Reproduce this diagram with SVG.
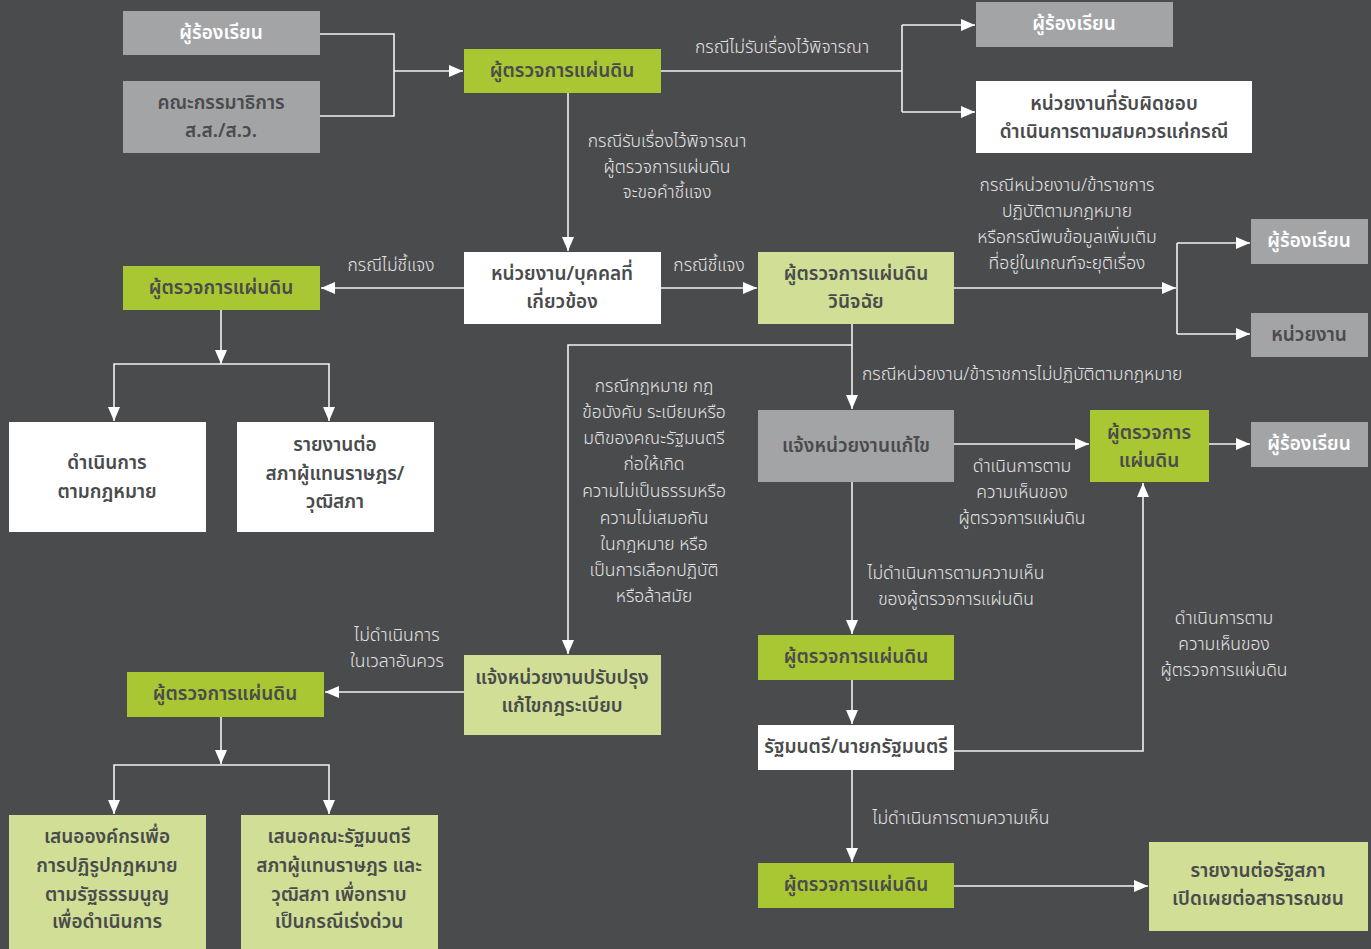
<svg xmlns="http://www.w3.org/2000/svg" width="1371" height="949" viewBox="0 0 1371 949">
<defs>
<marker id="ah" markerUnits="userSpaceOnUse" markerWidth="16" markerHeight="14" refX="15" refY="7" orient="auto">
<path d="M1,1 L15,7 L1,13 Z" fill="#ffffff"/>
</marker>
<style>
.bg{fill:#4a4b4d}
.gray{fill:#a3a4a6}
.green{fill:#a9c732}
.lgreen{fill:#d0df95}
.white{fill:#ffffff}
text{font-family:"Noto Sans Thai","Noto Sans","Liberation Sans",sans-serif;text-anchor:middle;dominant-baseline:central}
.bt{font-size:19px;font-weight:600;fill:#4a4b4d}
.btw{font-size:19px;font-weight:600;fill:#ffffff}
.lb{font-size:17.5px;font-weight:300;fill:#e4e4e4}
.lbl{font-size:17.5px;font-weight:300;fill:#e4e4e4;text-anchor:start}
.ln{fill:none;stroke:#f2f2f2;stroke-width:1.6}
.ar{marker-end:url(#ah)}
</style>
</defs>
<rect class="bg" x="0" y="0" width="1371" height="949"/>

<g id="connectors">
<path class="ln" d="M320 34 H394 V116 H320"/>
<path class="ln ar" d="M394 71 H463"/>
<path class="ln" d="M661 71 H902"/>
<path class="ln" d="M902 25 V112"/>
<path class="ln ar" d="M902 25 H975"/>
<path class="ln ar" d="M902 112 H975"/>
<path class="ln ar" d="M568 93 V251"/>
<path class="ln ar" d="M464 288 H321"/>
<path class="ln ar" d="M221 310 V364"/>
<path class="ln ar" d="M221 364 H114 V421"/>
<path class="ln ar" d="M221 364 H329 V421"/>
<path class="ln ar" d="M661 288 H757"/>
<path class="ln ar" d="M954 288 H1176"/>
<path class="ln" d="M1177 243 V334"/>
<path class="ln ar" d="M1177 243 H1250"/>
<path class="ln ar" d="M1177 334 H1250"/>
<path class="ln ar" d="M852 324 V409"/>
<path class="ln ar" d="M852 345 H568 V654"/>
<path class="ln ar" d="M954 444 H1089"/>
<path class="ln ar" d="M1209 444 H1250"/>
<path class="ln ar" d="M852 482 V634"/>
<path class="ln ar" d="M464 692 H325"/>
<path class="ln ar" d="M221 717 V764"/>
<path class="ln ar" d="M221 765 H114 V814"/>
<path class="ln ar" d="M221 765 H329 V814"/>
<path class="ln ar" d="M852 680 V724"/>
<path class="ln ar" d="M954 751 H1143 V483"/>
<path class="ln ar" d="M852 770 V862"/>
<path class="ln ar" d="M954 886 H1148"/>
</g>

<g id="labels">
<text class="lb" x="782" y="47">กรณีไม่รับเรื่องไว้พิจารณา</text>
<text class="lb" x="667" y="141">กรณีรับเรื่องไว้พิจารณา</text>
<text class="lb" x="667" y="167">ผู้ตรวจการแผ่นดิน</text>
<text class="lb" x="667" y="192">จะขอคำชี้แจง</text>
<text class="lb" x="391" y="265">กรณีไม่ชี้แจง</text>
<text class="lb" x="709" y="265">กรณีชี้แจง</text>
<text class="lb" x="1067" y="185">กรณีหน่วยงาน/ข้าราชการ</text>
<text class="lb" x="1067" y="211">ปฏิบัติตามกฎหมาย</text>
<text class="lb" x="1067" y="237">หรือกรณีพบข้อมูลเพิ่มเติม</text>
<text class="lb" x="1067" y="263">ที่อยู่ในเกณฑ์จะยุติเรื่อง</text>
<text class="lbl" x="862" y="374">กรณีหน่วยงาน/ข้าราชการไม่ปฏิบัติตามกฎหมาย</text>
<text class="lb" x="654" y="386">กรณีกฎหมาย กฎ</text>
<text class="lb" x="654" y="412">ข้อบังคับ ระเบียบหรือ</text>
<text class="lb" x="654" y="438">มติของคณะรัฐมนตรี</text>
<text class="lb" x="654" y="464">ก่อให้เกิด</text>
<text class="lb" x="654" y="491">ความไม่เป็นธรรมหรือ</text>
<text class="lb" x="654" y="518">ความไม่เสมอกัน</text>
<text class="lb" x="654" y="544">ในกฎหมาย หรือ</text>
<text class="lb" x="654" y="570">เป็นการเลือกปฏิบัติ</text>
<text class="lb" x="654" y="596">หรือล้าสมัย</text>
<text class="lb" x="1022" y="466">ดำเนินการตาม</text>
<text class="lb" x="1022" y="492">ความเห็นของ</text>
<text class="lb" x="1022" y="518">ผู้ตรวจการแผ่นดิน</text>
<text class="lb" x="956" y="573">ไม่ดำเนินการตามความเห็น</text>
<text class="lb" x="956" y="599">ของผู้ตรวจการแผ่นดิน</text>
<text class="lb" x="1224" y="618">ดำเนินการตาม</text>
<text class="lb" x="1224" y="644">ความเห็นของ</text>
<text class="lb" x="1224" y="670">ผู้ตรวจการแผ่นดิน</text>
<text class="lb" x="397" y="635">ไม่ดำเนินการ</text>
<text class="lb" x="397" y="661">ในเวลาอันควร</text>
<text class="lb" x="961" y="818">ไม่ดำเนินการตามความเห็น</text>
</g>

<g id="n-complainant1"><rect class="gray" x="123" y="11" width="197" height="44"/><text class="btw" x="221" y="33">ผู้ร้องเรียน</text></g>
<g id="n-committee"><rect class="gray" x="123" y="81" width="197" height="72"/><text class="bt" x="221" y="103">คณะกรรมาธิการ</text><text class="bt" x="221" y="131">ส.ส./ส.ว.</text></g>
<g id="n-ombudsman1"><rect class="green" x="464" y="49" width="197" height="44"/><text class="bt" x="562" y="71">ผู้ตรวจการแผ่นดิน</text></g>
<g id="n-complainant2"><rect class="gray" x="976" y="2" width="197" height="45"/><text class="btw" x="1074" y="24">ผู้ร้องเรียน</text></g>
<g id="n-responsible"><rect class="white" x="976" y="81" width="276" height="72"/><text class="bt" x="1114" y="104">หน่วยงานที่รับผิดชอบ</text><text class="bt" x="1114" y="132">ดำเนินการตามสมควรแก่กรณี</text></g>
<g id="n-agency"><rect class="white" x="464" y="252" width="197" height="72"/><text class="bt" x="562" y="274">หน่วยงาน/บุคคลที่</text><text class="bt" x="562" y="302">เกี่ยวข้อง</text></g>
<g id="n-ombudsman2"><rect class="green" x="123" y="266" width="197" height="44"/><text class="bt" x="221" y="288">ผู้ตรวจการแผ่นดิน</text></g>
<g id="n-lawaction"><rect class="white" x="9" y="422" width="197" height="110"/><text class="bt" x="107" y="463">ดำเนินการ</text><text class="bt" x="107" y="492">ตามกฎหมาย</text></g>
<g id="n-report1"><rect class="white" x="237" y="422" width="197" height="110"/><text class="bt" x="335" y="445">รายงานต่อ</text><text class="bt" x="335" y="474">สภาผู้แทนราษฎร/</text><text class="bt" x="335" y="502">วุฒิสภา</text></g>
<g id="n-decide"><rect class="lgreen" x="758" y="252" width="196" height="72"/><text class="bt" x="856" y="274">ผู้ตรวจการแผ่นดิน</text><text class="bt" x="856" y="302">วินิจฉัย</text></g>
<g id="n-complainant3"><rect class="gray" x="1251" y="219" width="117" height="45"/><text class="btw" x="1309" y="241">ผู้ร้องเรียน</text></g>
<g id="n-unit"><rect class="gray" x="1251" y="313" width="117" height="44"/><text class="bt" x="1309" y="335">หน่วยงาน</text></g>
<g id="n-notifyfix"><rect class="gray" x="758" y="410" width="196" height="72"/><text class="bt" x="856" y="446">แจ้งหน่วยงานแก้ไข</text></g>
<g id="n-ombudsman3"><rect class="green" x="1090" y="410" width="119" height="72"/><text class="bt" x="1149" y="433">ผู้ตรวจการ</text><text class="bt" x="1149" y="461">แผ่นดิน</text></g>
<g id="n-complainant4"><rect class="gray" x="1251" y="422" width="117" height="45"/><text class="btw" x="1309" y="444">ผู้ร้องเรียน</text></g>
<g id="n-notifyreg"><rect class="lgreen" x="464" y="655" width="197" height="80"/><text class="bt" x="562" y="678">แจ้งหน่วยงานปรับปรุง</text><text class="bt" x="562" y="706">แก้ไขกฎระเบียบ</text></g>
<g id="n-ombudsman4"><rect class="green" x="758" y="635" width="196" height="45"/><text class="bt" x="856" y="657">ผู้ตรวจการแผ่นดิน</text></g>
<g id="n-ombudsman5"><rect class="green" x="127" y="672" width="197" height="45"/><text class="bt" x="225" y="694">ผู้ตรวจการแผ่นดิน</text></g>
<g id="n-propose1"><rect class="lgreen" x="9" y="815" width="197" height="134"/><text class="bt" x="107" y="837">เสนอองค์กรเพื่อ</text><text class="bt" x="107" y="866">การปฏิรูปกฎหมาย</text><text class="bt" x="107" y="895">ตามรัฐธรรมนูญ</text><text class="bt" x="107" y="922">เพื่อดำเนินการ</text></g>
<g id="n-propose2"><rect class="lgreen" x="241" y="815" width="197" height="134"/><text class="bt" x="339" y="837">เสนอคณะรัฐมนตรี</text><text class="bt" x="339" y="866">สภาผู้แทนราษฎร และ</text><text class="bt" x="339" y="895">วุฒิสภา เพื่อทราบ</text><text class="bt" x="339" y="922">เป็นกรณีเร่งด่วน</text></g>
<g id="n-minister"><rect class="white" x="758" y="725" width="196" height="45"/><text class="bt" x="856" y="747">รัฐมนตรี/นายกรัฐมนตรี</text></g>
<g id="n-ombudsman6"><rect class="green" x="758" y="863" width="196" height="45"/><text class="bt" x="856" y="885">ผู้ตรวจการแผ่นดิน</text></g>
<g id="n-parliament"><rect class="lgreen" x="1149" y="842" width="219" height="89"/><text class="bt" x="1258" y="871">รายงานต่อรัฐสภา</text><text class="bt" x="1258" y="899">เปิดเผยต่อสาธารณชน</text></g>
</svg>
